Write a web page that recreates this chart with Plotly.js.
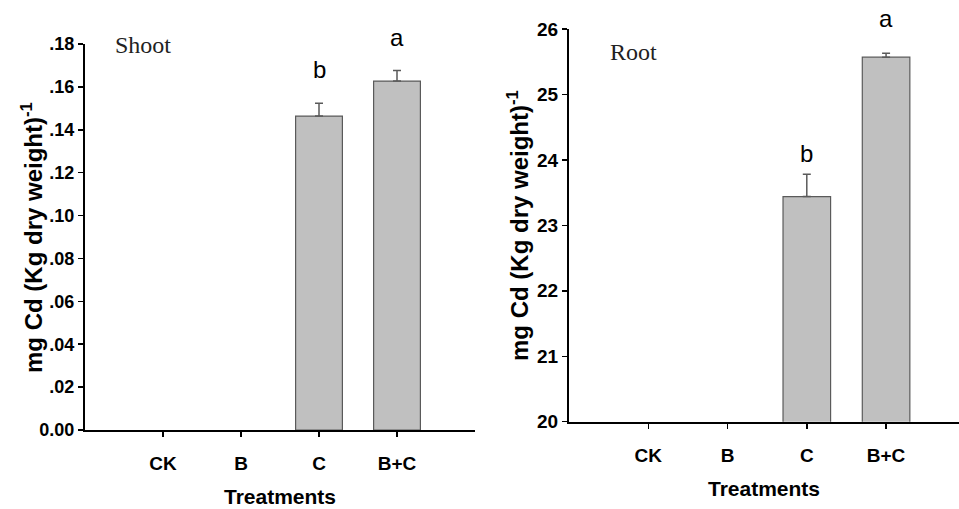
<!DOCTYPE html>
<html>
<head>
<meta charset="utf-8">
<script src="https://cdn.plot.ly/plotly-3.0.1.min.js"></script>
<style>html,body{margin:0;padding:0;background:#fff;}#chart{width:959px;height:509px;}</style>
</head>
<body>
<div id="chart"></div>
<script>
// Data
const categories = ["CK", "B", "C", "B+C"];
const shootValues = [null, null, 0.1464, 0.1627];
const shootErrors = [0, 0, 0.0060, 0.0050];
const rootValues = [null, null, 23.44, 25.57];
const rootErrors = [0, 0, 0.34, 0.06];
const shootLetters = ["", "", "b", "a"];
const rootLetters = ["", "", "b", "a"];
const shootTickVals = [0, 0.02, 0.04, 0.06, 0.08, 0.10, 0.12, 0.14, 0.16, 0.18];
const shootTickText = ["0.00", ".02", ".04", ".06", ".08", ".10", ".12", ".14", ".16", ".18"];
const rootTickVals = [20, 21, 22, 23, 24, 25, 26];
const rootTickText = ["20", "21", "22", "23", "24", "25", "26"];
const yTitle = "mg Cd (Kg dry weight)<sup>-1</sup>";
const xTitle = "Treatments";

const W = 959, H = 509;
const barColor = "#c0c0c0", edge = "#5a5a5a";
const boldSans = {family: "Liberation Sans, Arial, sans-serif", size: 18, color: "#000", weight: "bold"};

function barTrace(vals, errs, xa, ya) {
  return {
    type: "bar", x: categories, y: vals, xaxis: xa, yaxis: ya, width: 0.6,
    marker: {color: barColor, line: {color: edge, width: 1.2}},
    error_y: {type: "data", array: errs, visible: true, symmetric: false, arrayminus: errs.map(() => 0),
              color: edge, thickness: 1.5, width: 4},
    showlegend: false, hoverinfo: "none"
  };
}

const data = [
  barTrace(shootValues, shootErrors, "x", "y"),
  barTrace(rootValues, rootErrors, "x2", "y2")
];

function px2x(p) { return p / W; }
function py2y(p) { return 1 - p / H; }

const axisCommon = {
  showline: true, linecolor: "#000", linewidth: 2, ticks: "outside", ticklen: 5, tickwidth: 1.5,
  tickcolor: "#000", showgrid: false, zeroline: false, mirror: false, fixedrange: true, automargin: false
};
const xTitleObj = {text: xTitle, font: Object.assign({}, boldSans, {size: 21}), standoff: 17};

const layout = {
  width: W, height: H,
  margin: {l: 0, r: 0, t: 0, b: 0},
  paper_bgcolor: "#fff", plot_bgcolor: "#fff",
  bargap: 0.4,
  xaxis: Object.assign({}, axisCommon, {
    domain: [px2x(85), px2x(475)], range: [-1, 4], type: "category", anchor: "y",
    tickfont: Object.assign({}, boldSans, {size: 19}), ticklabelstandoff: 10, title: xTitleObj
  }),
  yaxis: Object.assign({}, axisCommon, {
    domain: [py2y(430), py2y(44)], range: [0, 0.18], anchor: "x",
    tickvals: shootTickVals, ticktext: shootTickText, tickfont: boldSans
  }),
  xaxis2: Object.assign({}, axisCommon, {
    domain: [px2x(569), 1], range: [-1, 3.92], type: "category", anchor: "y2",
    tickfont: Object.assign({}, boldSans, {size: 19}), ticklabelstandoff: 10, title: xTitleObj
  }),
  yaxis2: Object.assign({}, axisCommon, {
    domain: [py2y(421.7), py2y(29)], range: [20, 26], anchor: "x2",
    tickvals: rootTickVals, ticktext: rootTickText, tickfont: Object.assign({}, boldSans, {size: 19})
  }),
  annotations: []
};

const ann = layout.annotations;
// Panel labels
ann.push({text: "Shoot", xref: "paper", yref: "paper", x: px2x(113), y: py2y(45), xanchor: "left", yanchor: "middle",
  showarrow: false, font: {family: "Liberation Serif, Times New Roman, serif", size: 24, color: "#222"}});
ann.push({text: "Root", xref: "paper", yref: "paper", x: px2x(608), y: py2y(52), xanchor: "left", yanchor: "middle",
  showarrow: false, font: {family: "Liberation Serif, Times New Roman, serif", size: 24, color: "#222"}});
// Y axis titles
ann.push({text: yTitle, xref: "paper", yref: "paper", x: px2x(32), y: py2y(238), textangle: -90,
  xanchor: "center", yanchor: "middle", showarrow: false, font: Object.assign({}, boldSans, {size: 24})});
ann.push({text: yTitle, xref: "paper", yref: "paper", x: px2x(518), y: py2y(226), textangle: -90,
  xanchor: "center", yanchor: "middle", showarrow: false, font: Object.assign({}, boldSans, {size: 24})});
// Significance letters
const shootShift = [0, 0, 34, 33];
const rootShift = [0, 0, 21, 35];
const letterFont = {family: "Liberation Sans, Arial, sans-serif", size: 24, color: "#000"};
categories.forEach((c, i) => {
  if (shootLetters[i]) ann.push({text: shootLetters[i], xref: "x", yref: "y", x: c, y: shootValues[i] + shootErrors[i],
    yshift: shootShift[i], xanchor: "center", yanchor: "middle", showarrow: false, font: letterFont});
  if (rootLetters[i]) ann.push({text: rootLetters[i], xref: "x2", yref: "y2", x: c, y: rootValues[i] + rootErrors[i],
    yshift: rootShift[i], xanchor: "center", yanchor: "middle", showarrow: false, font: letterFont});
});

Plotly.newPlot("chart", data, layout, {staticPlot: true, displayModeBar: false});
</script>
</body>
</html>
